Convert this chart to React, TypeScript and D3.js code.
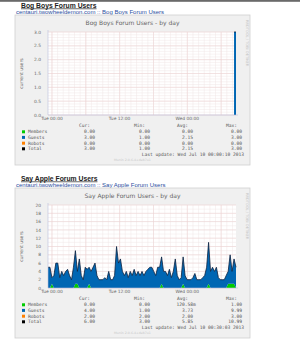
import React from "react";
import * as d3 from "d3";

const N = null;

const hourStart = -0.7;
const hourEnd = 32.63;
const xTickHours = [0, 12, 24];
const xTickLabels = ["Tue 00:00", "Tue 12:00", "Wed 00:00"];

const seriesNames = ["Members", "Guests", "Robots", "Total"];
const seriesColors = ["#00cc00", "#0066b3", "#ff8000", "#000000"];
const legendHeads = ["Cur:", "Min:", "Avg:", "Max:"];

// Bog Boys
const bogYTicks = [0, 0.5, 1, 1.5, 2, 2.5, 3];
const bogMembers = [
  N,N,N,N,N,N,N,N,N,N, N,N,N,N,N,N,N,N,N,N, N,N,N,N,N,N,N,N,N,N,
  N,N,N,N,N,N,N,N,N,N, N,N,N,N,N,N,N,N,N,N, N,N,N,N,N,N,N,N,N,N,
  N,N,N,N,N,N,N,N,N,N, N,N,N,N,N,N,N,N,N,N, N,N,N,N,N,N,N,N,N,N,
  N,N,N,N,N,0,0,
];
const bogGuests = [
  N,N,N,N,N,N,N,N,N,N, N,N,N,N,N,N,N,N,N,N, N,N,N,N,N,N,N,N,N,N,
  N,N,N,N,N,N,N,N,N,N, N,N,N,N,N,N,N,N,N,N, N,N,N,N,N,N,N,N,N,N,
  N,N,N,N,N,N,N,N,N,N, N,N,N,N,N,N,N,N,N,N, N,N,N,N,N,N,N,N,N,N,
  N,N,N,N,N,3,3,
];
const bogCur = ["0.00", "3.00", "0.00", "3.00"];
const bogMin = ["0.00", "1.00", "0.00", "1.00"];
const bogAvg = ["0.00", "2.15", "0.00", "2.15"];
const bogMax = ["0.00", "3.00", "0.00", "3.00"];

// Say Apple
const sayYTicks = [0, 2, 4, 6, 8, 10, 12, 14, 16, 18, 20];
const sayMembers = [
  0,0,1,0,0,0,0,0,0,0, 0,0,0,0,1,1,0,0,0,0,
  0,1,0,0,0,0,0,0,0,0, 0,0,0,0,0,0,0,0,0,0,
  0,0,0,0,0,0,0,0,0,0, 0,0,0,0,0,0,0,0,1,0,
  0,0,0,0,0,0,0,0,0,1, 0,0,0,0,0,0,0,0,0,0,
  0,0,1,0,0,0,0,0,0,0, 0,0,1,1,1,1,0,
];
const sayGuests = [
  5,5,1.5,3,6,6,2.5,4,3,4, 4.5,3,2,5,8,3,7,3,2,5,
  4.5,4,4,5,6,3,2,2,2,2.5, 2,4,2,2,3,10,6,7,4,3,
  4,2.5,4,3,4.5,3,4,3,4,3, 4,4.5,5,5,4,3,5,5,6.5,4,
  4,3,4.5,2.5,4,7,3,2,2.5,6.5, 3,2,2,2,2.5,3.5,2,2,2,2.5,
  3,5,10,4,5,4,5,2.5,2,2, 2,3,3,7,3,6,5,
];
const sayCur = ["0.00", "4.00", "2.00", "6.00"];
const sayMin = ["0.00", "1.00", "2.00", "3.00"];
const sayAvg = ["120.58m", "3.73", "2.00", "5.85"];
const sayMax = ["1.00", "9.99", "3.00", "10.99"];

const SANS = "'DejaVu Sans', sans-serif";
const MONO = "'DejaVu Sans Mono', monospace";
const HEAD = "'Liberation Sans', Arial, sans-serif";

type ChartProps = {
  top: number;
  name: string;
  yTicks: number[];
  yFmt: (v: number) => string;
  minorStep: number;
  members: (number | null)[];
  guests: (number | null)[];
  cur: string[];
  min: string[];
  avg: string[];
  max: string[];
  lastUpdate: string;
};

function Chart(p: ChartProps) {
  const pt = p.top + 17;
  const pb = p.top + 100;
  const pl = 48;
  const pr = 236;
  const n = p.guests.length;
  const step = (hourEnd - hourStart) / (n - 1);
  const x = d3.scaleLinear().domain([hourStart, hourEnd]).range([pl, pr]);
  const yMax = p.yTicks[p.yTicks.length - 1];
  const y = d3.scaleLinear().domain([0, yMax]).range([pb, pt]);

  const rows = p.guests.map((g, i) => ({
    h: hourStart + i * step,
    m: p.members[i],
    g,
  }));
  const def = (d: any) => d.g != null;
  const memberArea = d3.area<any>().defined(def).x((d) => x(d.h)).y0(y(0)).y1((d) => y(d.m || 0));
  const guestArea = d3.area<any>().defined(def).x((d) => x(d.h)).y0((d) => y(d.m || 0)).y1((d) => y((d.m || 0) + d.g));
  const totalLine = d3.line<any>().defined(def).x((d) => x(d.h)).y((d) => y((d.m || 0) + d.g));

  const minorY = d3.range(0, yMax + 1e-9, p.minorStep);
  const minorX = d3.range(Math.ceil(hourStart), hourEnd, 1);
  const majorX = d3.range(0, hourEnd, 6);

  const cols = [
    { head: 90, val: 95, arr: p.cur },
    { head: 145, val: 150, arr: p.min },
    { head: 188, val: 193, arr: p.avg },
    { head: 237, val: 242, arr: p.max },
  ];
  const rowY = [116.8, 122.4, 128.2, 133.8];

  return (
    <g>
      <text x={21} y={p.top - 7.5} fontFamily={HEAD} fontWeight="bold" fontSize={6.8} fill="#222" textDecoration="underline">
        {p.name}
      </text>
      <text x={16} y={p.top - 1.5} fontFamily={HEAD} fontSize={6} fill="#2a4ea0">
        {"centauri.twowheeldemon.com :: " + p.name}
      </text>
      <rect x={15} y={p.top} width={235} height={150} fill="#f0f0f0" stroke="#cfcfcf" strokeWidth={0.8} />
      <text x={132.5} y={p.top + 10} textAnchor="middle" fontFamily={SANS} fontSize={6} fill="#666">
        {p.name + " - by day"}
      </text>
      <text
        transform={`translate(245.5,${p.top + 5}) rotate(90)`}
        fontFamily={SANS}
        fontSize={3.6}
        fill="#c4c4c4"
      >
        RRDTOOL / TOBI OETIKER
      </text>
      <rect x={pl} y={pt} width={pr - pl} height={pb - pt} fill="#ffffff" />
      {minorY.map((v, i) => (
        <line key={"my" + i} x1={pl} x2={pr} y1={y(v)} y2={y(v)} stroke="#f1e6e6" strokeWidth={0.5} />
      ))}
      {minorX.map((h, i) => (
        <line key={"mx" + i} x1={x(h)} x2={x(h)} y1={pt} y2={pb} stroke="#f1e6e6" strokeWidth={0.5} />
      ))}
      {p.yTicks.map((v, i) => (
        <line key={"My" + i} x1={pl} x2={pr} y1={y(v)} y2={y(v)} stroke="#ecd0d0" strokeWidth={0.5} />
      ))}
      {majorX.map((h, i) => (
        <line key={"Mx" + i} x1={x(h)} x2={x(h)} y1={pt} y2={pb} stroke="#ecd0d0" strokeWidth={0.5} />
      ))}
      <path d={memberArea(rows) || ""} fill={seriesColors[0]} />
      <path d={guestArea(rows) || ""} fill={seriesColors[1]} />
      <path d={totalLine(rows) || ""} fill="none" stroke="#0d2240" strokeWidth={0.8} />
      <line x1={pl} x2={pr + 2} y1={pb} y2={pb} stroke="#b9c0dd" strokeWidth={0.6} />
      <line x1={pl} x2={pl} y1={pt - 2} y2={pb} stroke="#b9c0dd" strokeWidth={0.6} />
      {p.yTicks.map((v, i) => (
        <text key={"yl" + i} x={41} y={y(v) + 1.6} textAnchor="end" fontFamily={SANS} fontSize={4.4} fill="#666">
          {p.yFmt(v)}
        </text>
      ))}
      {xTickHours.map((h, i) => (
        <text key={"xl" + i} x={x(h)} y={pb + 5} textAnchor="middle" fontFamily={SANS} fontSize={4.4} fill="#666">
          {xTickLabels[i]}
        </text>
      ))}
      <text
        transform={`translate(23,${(pt + pb) / 2}) rotate(-90)`}
        textAnchor="middle"
        fontFamily={SANS}
        fontSize={4.6}
        fill="#666"
      >
        current users
      </text>
      {cols.map((c, j) => (
        <text key={"h" + j} x={c.head} y={p.top + 111.5} textAnchor="end" fontFamily={MONO} fontSize={4.6} fill="#555">
          {legendHeads[j]}
        </text>
      ))}
      {seriesNames.map((s, i) => (
        <g key={"r" + i}>
          <rect x={22} y={p.top + rowY[i] - 1.5} width={3} height={3} fill={seriesColors[i]} />
          <text x={28} y={p.top + rowY[i] + 1.6} fontFamily={MONO} fontSize={4.6} fill="#555">
            {s}
          </text>
          {cols.map((c, j) => {
            const v = c.arr[i];
            const suffix = /[a-zA-Z]$/.test(v);
            return (
              <text
                key={"v" + j}
                x={suffix ? c.val + 2.8 : c.val}
                y={p.top + rowY[i] + 1.6}
                textAnchor="end"
                fontFamily={MONO}
                fontSize={4.6}
                fill="#555"
              >
                {v}
              </text>
            );
          })}
        </g>
      ))}
      <text x={244} y={p.top + 140.6} textAnchor="end" fontFamily={MONO} fontSize={4.6} fill="#555">
        {"Last update: " + p.lastUpdate}
      </text>
      <text x={132.5} y={p.top + 145.5} textAnchor="middle" fontFamily={SANS} fontSize={3.2} fill="#c8c8c8">
        Munin 2.0.6-4+deb7u1
      </text>
    </g>
  );
}

export default function App() {
  return (
    <svg
      width={300}
      height={348}
      viewBox="0 0 300 348"
      style={{ position: "absolute", left: 0, top: 0, background: "#fff" }}
    >
      <rect x={0} y={0} width={300} height={348} fill="#ffffff" />
      <rect x={0} y={0} width={300} height={1.8} fill="#6a6a6a" />
      <Chart
        top={15}
        name="Bog Boys Forum Users"
        yTicks={bogYTicks}
        yFmt={(v) => v.toFixed(1)}
        minorStep={0.1}
        members={bogMembers}
        guests={bogGuests}
        cur={bogCur}
        min={bogMin}
        avg={bogAvg}
        max={bogMax}
        lastUpdate="Wed Jul 10 00:00:10 2013"
      />
      <Chart
        top={188}
        name="Say Apple Forum Users"
        yTicks={sayYTicks}
        yFmt={(v) => String(v)}
        minorStep={1}
        members={sayMembers}
        guests={sayGuests}
        cur={sayCur}
        min={sayMin}
        avg={sayAvg}
        max={sayMax}
        lastUpdate="Wed Jul 10 00:30:03 2013"
      />
    </svg>
  );
}
